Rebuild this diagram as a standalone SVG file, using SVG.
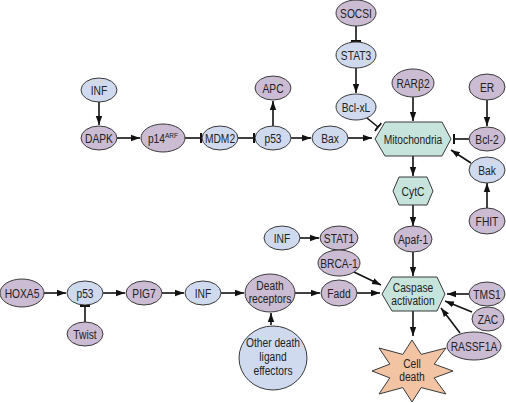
<svg xmlns="http://www.w3.org/2000/svg" width="506" height="403" viewBox="0 0 506 403">
<style>
.b{fill:#cfdaef;stroke:#3a3a3a;stroke-width:1}
.p{fill:#cbbbd3;stroke:#3a3a3a;stroke-width:1}
.h{fill:#c6e3dc;stroke:#3a3a3a;stroke-width:1}
.s{fill:#f2c4a3;stroke:#3a3a3a;stroke-width:1}
.t{font-family:"Liberation Sans",Arial,sans-serif;font-size:12.5px;fill:#222;text-anchor:middle}
.a{stroke:#111;stroke-width:1.6;fill:none;marker-end:url(#ar)}
.i{stroke:#111;stroke-width:1.6;fill:none;marker-end:url(#bar)}
</style>
<defs>
<marker id="ar" markerUnits="userSpaceOnUse" markerWidth="12" markerHeight="10" refX="9" refY="4" orient="auto" viewBox="0 0 12 8">
<path d="M0,0.8 L9,4 L0,7.2 Z" fill="#111"/>
</marker>
<marker id="bar" markerUnits="userSpaceOnUse" markerWidth="4" markerHeight="12" refX="1" refY="6" orient="auto" viewBox="0 0 4 12">
<path d="M1,1 L1,11" stroke="#111" stroke-width="2"/>
</marker>
</defs>
<rect width="506" height="403" fill="#fff"/>
<g id="connectors">
<line class="a" x1="99" y1="102" x2="99" y2="125"/>
<line class="a" x1="117" y1="138" x2="140" y2="138"/>
<line class="i" x1="185" y1="138" x2="201" y2="138"/>
<line class="i" x1="238" y1="138" x2="254" y2="138"/>
<line class="a" x1="273" y1="126" x2="273" y2="101"/>
<line class="a" x1="291" y1="138" x2="311" y2="138"/>
<line class="a" x1="348" y1="138" x2="372" y2="138"/>
<line class="i" x1="356" y1="26" x2="356" y2="41"/>
<line class="a" x1="356" y1="68" x2="356" y2="93"/>
<line class="i" x1="367" y1="118" x2="378" y2="127"/>
<line class="a" x1="413" y1="97" x2="413" y2="121"/>
<line class="a" x1="487" y1="100" x2="487" y2="126"/>
<line class="i" x1="469" y1="139" x2="454" y2="139"/>
<line class="a" x1="471" y1="163" x2="451" y2="150"/>
<line class="a" x1="487" y1="208" x2="487" y2="183"/>
<line class="a" x1="413" y1="156" x2="413" y2="176"/>
<line class="a" x1="413" y1="205" x2="413" y2="226"/>
<line class="a" x1="413" y1="252" x2="413" y2="276"/>
<line class="a" x1="300" y1="238" x2="319" y2="238"/>
<line class="a" x1="354" y1="272" x2="381" y2="285"/>
<line class="a" x1="357" y1="293" x2="380" y2="293"/>
<line class="a" x1="295" y1="293" x2="320" y2="293"/>
<line class="a" x1="221" y1="293" x2="244" y2="293"/>
<line class="a" x1="44" y1="293" x2="66" y2="293"/>
<line class="a" x1="103" y1="293" x2="125" y2="293"/>
<line class="a" x1="162" y1="293" x2="184" y2="293"/>
<line class="i" x1="85" y1="322" x2="85" y2="306"/>
<line class="a" x1="271" y1="325" x2="271" y2="313"/>
<line class="a" x1="469" y1="294" x2="447" y2="294"/>
<line class="a" x1="472" y1="312" x2="445" y2="301"/>
<line class="a" x1="460" y1="333" x2="441" y2="308"/>
<line class="a" x1="413" y1="311" x2="413" y2="336"/>
</g>
<g id="INF1"><ellipse class="b" cx="99" cy="90" rx="18" ry="12"/><text class="t" transform="translate(99,94.5) scale(0.82,1)">INF</text></g>
<g id="DAPK"><ellipse class="p" cx="99" cy="138" rx="18" ry="12"/><text class="t" transform="translate(99,142.5) scale(0.82,1)">DAPK</text></g>
<g id="p14ARF"><ellipse class="p" cx="163" cy="138" rx="22" ry="14"/><text class="t" transform="translate(163,142.5) scale(0.82,1)">p14<tspan font-size="8" dy="-5">ARF</tspan></text></g>
<g id="MDM2"><ellipse class="b" cx="220" cy="138" rx="18" ry="12"/><text class="t" transform="translate(220,142.5) scale(0.82,1)">MDM2</text></g>
<g id="p53a"><ellipse class="b" cx="273" cy="138" rx="18" ry="12"/><text class="t" transform="translate(273,142.5) scale(0.82,1)">p53</text></g>
<g id="APC"><ellipse class="p" cx="273" cy="88" rx="18" ry="12"/><text class="t" transform="translate(273,92.5) scale(0.82,1)">APC</text></g>
<g id="Bax"><ellipse class="b" cx="330" cy="138" rx="18" ry="12"/><text class="t" transform="translate(330,142.5) scale(0.82,1)">Bax</text></g>
<g id="SOCSI"><ellipse class="p" cx="356" cy="13" rx="20" ry="13"/><text class="t" transform="translate(356,17.5) scale(0.82,1)">SOCSI</text></g>
<g id="STAT3"><ellipse class="b" cx="356" cy="55" rx="20" ry="13"/><text class="t" transform="translate(356,59.5) scale(0.82,1)">STAT3</text></g>
<g id="BclxL"><ellipse class="b" cx="356" cy="107" rx="20" ry="13"/><text class="t" transform="translate(356,111.5) scale(0.82,1)">Bcl-xL</text></g>
<g id="RARb2"><ellipse class="p" cx="413" cy="83" rx="21" ry="14"/><text class="t" transform="translate(413,87.5) scale(0.82,1)">RARβ2</text></g>
<g id="ER"><ellipse class="p" cx="487" cy="87" rx="18" ry="13"/><text class="t" transform="translate(487,91.5) scale(0.82,1)">ER</text></g>
<g id="Mitochondria"><path class="h" d="M375,139 L385,122 L442,122 L451,139 L442,156 L385,156 Z"/><text class="t" transform="translate(413,143.5) scale(0.82,1)">Mitochondria</text></g>
<g id="Bcl2"><ellipse class="p" cx="487" cy="139" rx="18" ry="12"/><text class="t" transform="translate(487,143.5) scale(0.82,1)">Bcl-2</text></g>
<g id="Bak"><ellipse class="b" cx="487" cy="170" rx="18" ry="13"/><text class="t" transform="translate(487,174.5) scale(0.82,1)">Bak</text></g>
<g id="FHIT"><ellipse class="p" cx="487" cy="221" rx="18" ry="13"/><text class="t" transform="translate(487,225.5) scale(0.82,1)">FHIT</text></g>
<g id="CytC"><path class="h" d="M393,191 L399,177 L427,177 L433,191 L427,205 L399,205 Z"/><text class="t" transform="translate(413,195.5) scale(0.82,1)">CytC</text></g>
<g id="Apaf1"><ellipse class="p" cx="413" cy="239" rx="19" ry="13"/><text class="t" transform="translate(413,243.5) scale(0.82,1)">Apaf-1</text></g>
<g id="INF3"><ellipse class="b" cx="282" cy="238" rx="18" ry="12"/><text class="t" transform="translate(282,242.5) scale(0.82,1)">INF</text></g>
<g id="STAT1"><ellipse class="p" cx="339" cy="238" rx="19" ry="12"/><text class="t" transform="translate(339,242.5) scale(0.82,1)">STAT1</text></g>
<g id="BRCA1"><ellipse class="p" cx="339" cy="263" rx="21" ry="13"/><text class="t" transform="translate(339,267.5) scale(0.82,1)">BRCA-1</text></g>
<g id="HOXA5"><ellipse class="p" cx="22" cy="293" rx="22" ry="14"/><text class="t" transform="translate(22,297.5) scale(0.82,1)">HOXA5</text></g>
<g id="p53b"><ellipse class="b" cx="85" cy="293" rx="18" ry="12"/><text class="t" transform="translate(85,297.5) scale(0.82,1)">p53</text></g>
<g id="Twist"><ellipse class="p" cx="85" cy="334" rx="18" ry="12"/><text class="t" transform="translate(85,338.5) scale(0.82,1)">Twist</text></g>
<g id="PIG7"><ellipse class="p" cx="144" cy="293" rx="18" ry="12"/><text class="t" transform="translate(144,297.5) scale(0.82,1)">PIG7</text></g>
<g id="INF2"><ellipse class="b" cx="203" cy="293" rx="18" ry="12"/><text class="t" transform="translate(203,297.5) scale(0.82,1)">INF</text></g>
<g id="DeathReceptors"><ellipse class="p" cx="270" cy="293" rx="25" ry="19"/><text class="t" transform="translate(270,289.5) scale(0.82,1)">Death</text><text class="t" transform="translate(270,302.5) scale(0.82,1)">receptors</text></g>
<g id="Fadd"><ellipse class="p" cx="339" cy="293" rx="18" ry="13"/><text class="t" transform="translate(339,297.5) scale(0.82,1)">Fadd</text></g>
<g id="OtherDeath"><ellipse class="b" cx="273" cy="358" rx="34" ry="32"/><text class="t" transform="translate(273,347) scale(0.82,1)">Other death</text><text class="t" transform="translate(273,361) scale(0.82,1)">ligand</text><text class="t" transform="translate(273,375) scale(0.82,1)">effectors</text></g>
<g id="Caspase"><path class="h" d="M382,294 L392,277 L437,277 L445,294 L437,311 L392,311 Z"/><text class="t" transform="translate(413,291.5) scale(0.82,1)">Caspase</text><text class="t" transform="translate(413,304.5) scale(0.82,1)">activation</text></g>
<g id="TMS1"><ellipse class="p" cx="487" cy="294" rx="18" ry="12"/><text class="t" transform="translate(487,298.5) scale(0.82,1)">TMS1</text></g>
<g id="ZAC"><ellipse class="p" cx="488" cy="319" rx="16" ry="12"/><text class="t" transform="translate(488,323.5) scale(0.82,1)">ZAC</text></g>
<g id="RASSF1A"><ellipse class="p" cx="474" cy="346" rx="27" ry="14"/><text class="t" transform="translate(474,350.5) scale(0.82,1)">RASSF1A</text></g>
<g id="CellDeath"><path class="s" d="M412,340 L421.2,354.4 L446,348 L434.2,364.1 L453,371 L434.2,377.9 L446,394 L421.2,387.6 L412,402 L402.8,387.6 L379,394 L389.8,377.9 L372,371 L389.8,364.1 L379,348 L402.8,354.4 Z"/><text class="t" transform="translate(412,368) scale(0.82,1)">Cell</text><text class="t" transform="translate(412,381) scale(0.82,1)">death</text></g>
</svg>
